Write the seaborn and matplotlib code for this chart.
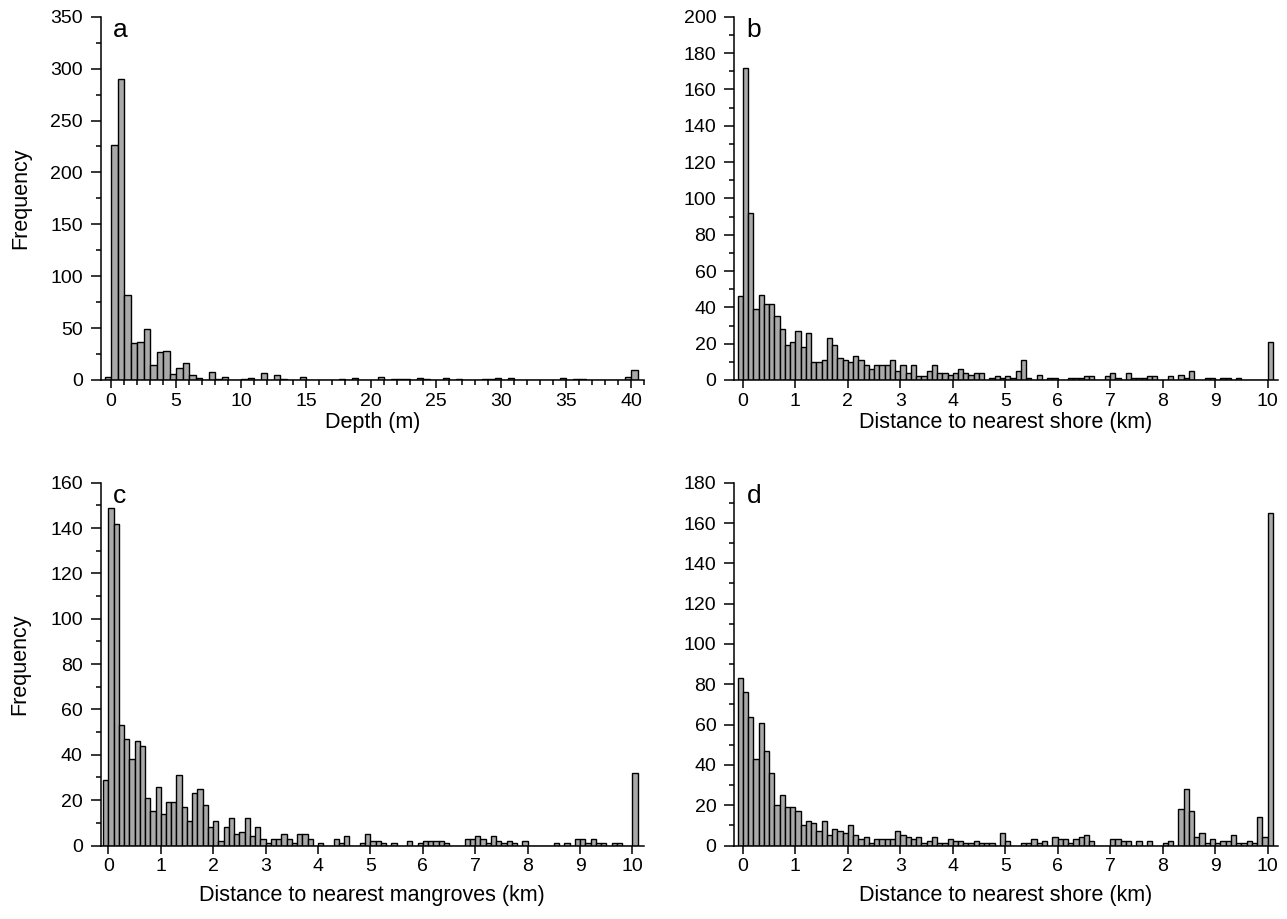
import numpy as np
import pandas as pd
import matplotlib
matplotlib.use("Agg")
import matplotlib.pyplot as plt
import seaborn as sns
from matplotlib.ticker import MultipleLocator

# ---------------- data (bin counts) ----------------
# a: depth, bins of 0.5 m starting at -0.5 m
depth_bin_start = -0.5
depth_bin_width = 0.5
depth_counts = [
    3, 226, 290, 82, 36, 37, 49, 14, 27, 28,
    6, 12, 16, 5, 2, 0, 8, 1, 3, 0,
    0, 1, 2, 0, 7, 0, 5, 1, 0, 0,
    3, 0, 0, 0, 0, 0, 1, 0, 2, 0,
    0, 0, 3, 0, 1, 1, 1, 0, 2, 1,
    0, 0, 2, 0, 1, 0, 0, 0, 1, 1,
    2, 0, 2, 0, 0, 0, 0, 0, 0, 0,
    2, 0, 1, 1, 0, 0, 0, 0, 0, 0,
    3, 10,
]

# b, c, d: distances, bins of 0.1 km starting at -0.1 km
dist_bin_start = -0.1
dist_bin_width = 0.1
shore_b_counts = [
    46, 172, 92, 39, 47, 42, 42, 35, 28, 19,
    21, 27, 18, 26, 10, 10, 11, 23, 19, 12,
    11, 10, 13, 11, 8, 6, 8, 8, 8, 11,
    5, 8, 4, 8, 2, 2, 5, 8, 4, 4,
    3, 4, 6, 4, 3, 4, 4, 0, 1, 2,
    1, 2, 1, 5, 11, 1, 0, 3, 0, 1,
    1, 0, 0, 1, 1, 1, 2, 2, 0, 0,
    2, 4, 1, 0, 4, 1, 1, 1, 2, 2,
    0, 0, 2, 0, 3, 1, 5, 0, 0, 1,
    1, 0, 1, 1, 0, 1, 0, 0, 0, 0,
    0, 21,
]
mangrove_c_counts = [
    29, 149, 142, 53, 47, 38, 46, 44, 21, 15,
    26, 14, 19, 19, 31, 17, 11, 23, 25, 18,
    8, 11, 2, 8, 12, 5, 6, 12, 4, 8,
    3, 1, 3, 3, 5, 3, 1, 5, 5, 3,
    0, 1, 0, 0, 3, 1, 4, 0, 0, 1,
    5, 2, 2, 1, 0, 1, 0, 0, 2, 0,
    1, 2, 2, 2, 2, 1, 0, 0, 0, 3,
    3, 4, 3, 1, 4, 2, 1, 2, 1, 0,
    2, 0, 0, 0, 0, 0, 1, 0, 1, 0,
    3, 3, 1, 3, 1, 1, 0, 1, 1, 0,
    0, 32,
]
shore_d_counts = [
    83, 76, 64, 43, 61, 47, 36, 20, 25, 19,
    19, 17, 10, 12, 11, 7, 12, 5, 8, 7,
    6, 10, 5, 3, 4, 1, 3, 3, 3, 3,
    7, 5, 4, 3, 4, 1, 2, 4, 1, 1,
    3, 2, 2, 1, 1, 2, 1, 1, 1, 0,
    6, 2, 0, 0, 1, 1, 3, 1, 2, 0,
    4, 3, 3, 1, 3, 4, 5, 2, 0, 0,
    0, 3, 3, 2, 2, 0, 2, 0, 2, 0,
    0, 1, 2, 0, 18, 28, 17, 4, 6, 1,
    3, 1, 2, 2, 5, 1, 1, 2, 1, 14,
    4, 165,
]

panel_letters = ["a", "b", "c", "d"]
x_labels = ["Depth (m)", "Distance to nearest shore (km)",
            "Distance to nearest mangroves (km)", "Distance to nearest shore (km)"]
y_label = "Frequency"

# ---------------- style ----------------
sns.set_theme(style="ticks")
plt.rcParams['font.family'] = ['Liberation Sans', 'DejaVu Sans']
plt.rcParams.update({
    'axes.linewidth': 1.1,
    'text.color': 'black',
    'axes.labelcolor': 'black',
    'xtick.color': 'black',
    'ytick.color': 'black',
    'axes.edgecolor': 'black',
})

W, H = 1287, 919
fig = plt.figure(figsize=(W / 100, H / 100), dpi=100)


def fbox(l, t, r, b):
    return [l / W, 1 - b / H, (r - l) / W, (b - t) / H]


ax_a = fig.add_axes(fbox(100.5, 16.7, 644, 380))
ax_b = fig.add_axes(fbox(734, 16.7, 1278, 380))
ax_c = fig.add_axes(fbox(100.5, 482.7, 644, 845.5))
ax_d = fig.add_axes(fbox(734, 482.7, 1278, 845.5))

BAR = "#a9a9a9"


def draw(ax, counts, start, width, xlim, ymax, ymajor, xmajor, xminor,
         letter, xlabel, ylabel, labelpad):
    counts = np.asarray(counts, dtype=float)
    edges = start + width * np.arange(len(counts) + 1)
    df = pd.DataFrame({"x": edges[:-1] + width / 2, "n": counts})
    sns.histplot(data=df, x="x", weights="n", bins=[float(e) for e in edges],
                 ax=ax, color=BAR, edgecolor="black", linewidth=1.0, alpha=1.0)
    ax.set_xlim(*xlim)
    ax.set_ylim(0, ymax)
    ax.yaxis.set_major_locator(MultipleLocator(ymajor))
    ax.yaxis.set_minor_locator(MultipleLocator(ymajor / 2))
    ax.xaxis.set_major_locator(MultipleLocator(xmajor))
    if xminor:
        ax.xaxis.set_minor_locator(MultipleLocator(xminor))
    ax.tick_params(axis="y", which="major", direction="out", length=7.2,
                   width=1.1, labelsize=14, pad=5.5)
    ax.tick_params(axis="y", which="minor", direction="out", length=3.6,
                   width=1.1)
    ax.tick_params(axis="x", which="major", direction="out", length=6,
                   width=1.1, labelsize=14, pad=3)
    ax.tick_params(axis="x", which="minor", direction="out", length=3.6,
                   width=1.1)
    for s in ("top", "right"):
        ax.spines[s].set_visible(False)
    ax.set_xlabel(xlabel, fontsize=15.5, labelpad=labelpad)
    ax.set_ylabel(ylabel, fontsize=15.5, labelpad=14)
    ax.annotate(letter, xy=(0, 1), xycoords="axes fraction",
                xytext=(9, -14.5), textcoords="offset points",
                fontsize=19, ha="left", va="baseline")


draw(ax_a, depth_counts, depth_bin_start, depth_bin_width, (-0.82, 41.0),
     350, 50, 5, 1, panel_letters[0], x_labels[0], y_label, 1.5)
draw(ax_b, shore_b_counts, dist_bin_start, dist_bin_width, (-0.17, 10.2),
     200, 20, 1, None, panel_letters[1], x_labels[1], "", 1.5)
draw(ax_c, mangrove_c_counts, dist_bin_start, dist_bin_width, (-0.15, 10.22),
     160, 20, 1, None, panel_letters[2], x_labels[2], y_label, 7)
draw(ax_d, shore_d_counts, dist_bin_start, dist_bin_width, (-0.17, 10.2),
     180, 20, 1, None, panel_letters[3], x_labels[3], "", 7)

fig.savefig("out.png", dpi=100)
